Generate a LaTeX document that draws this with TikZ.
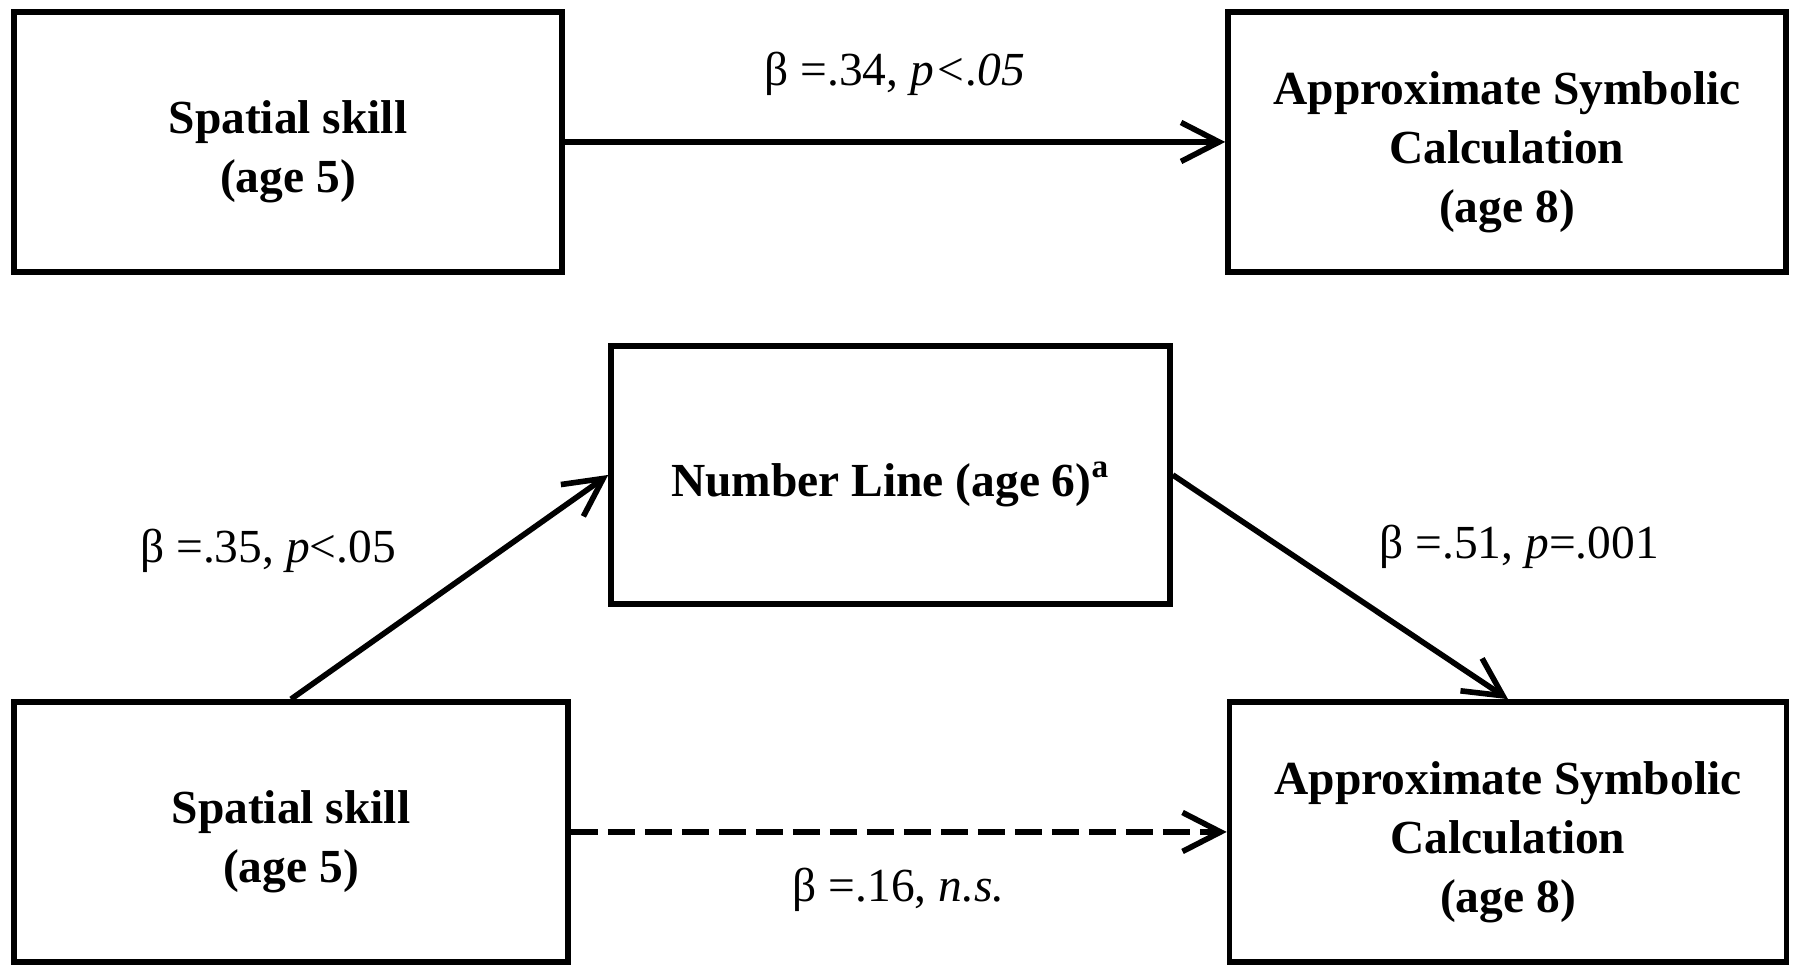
\documentclass[tikz,border=0pt]{standalone}
\usepackage{fontspec}
\setmainfont{Liberation Serif}
\usetikzlibrary{arrows.meta}
\newcommand{\topstrut}{\rule{0pt}{15pt}}

\begin{document}
\begin{tikzpicture}
	\useasboundingbox (0,0) rectangle (18,9.77);
	\begin{scope}[every node/.style={rectangle,draw=black,line width=1.6pt,align=center,
		font=\fontsize{13.5pt}{16.8pt}\selectfont\bfseries,minimum height=2.6cm}]
		\node[minimum width=5.48cm] (SS1) at (2.88,8.35) {\topstrut Spatial skill\\(age 5)};
		\node[minimum width=5.58cm] (AC1) at (15.07,8.35) {\topstrut Approximate Symbolic\\Calculation\\(age 8)};
		\node[minimum width=5.59cm,minimum height=2.58cm] (NL) at (8.905,5.02) {\topstrut Number Line (age 6)\textsuperscript{a}};
		\node[minimum width=5.54cm] (SS2) at (2.91,1.45) {\topstrut Spatial skill\\(age 5)};
		\node[minimum width=5.57cm] (AC2) at (15.08,1.45) {\topstrut Approximate Symbolic\\Calculation\\(age 8)};
	\end{scope}
	\begin{scope}[>={Straight Barb[length=3.8mm,width=3.9mm]},
		every node/.style={font=\fontsize{13.5pt}{16.8pt}\selectfont},
		every edge/.style={draw,line width=1.6pt}]
		\path [->] (SS1) edge node[yshift=0.68cm]{β =.34, \textit{p<.05}} (AC1);
		\path [->] (SS2.north) edge node[pos=.66,left=0.9cm]{β =.35, \textit{p}<.05} (NL.west);
		\path [->] (NL.east) edge node[pos=.32,right=0.85cm]{β =.51, \textit{p}=.001} (AC2.north);
		\path [->] (SS2) edge[dash pattern=on 2.7mm off 1mm] node[yshift=-0.58cm]{β =.16, \textit{n.s.}} (AC2);
	\end{scope}
\end{tikzpicture}
\end{document}
